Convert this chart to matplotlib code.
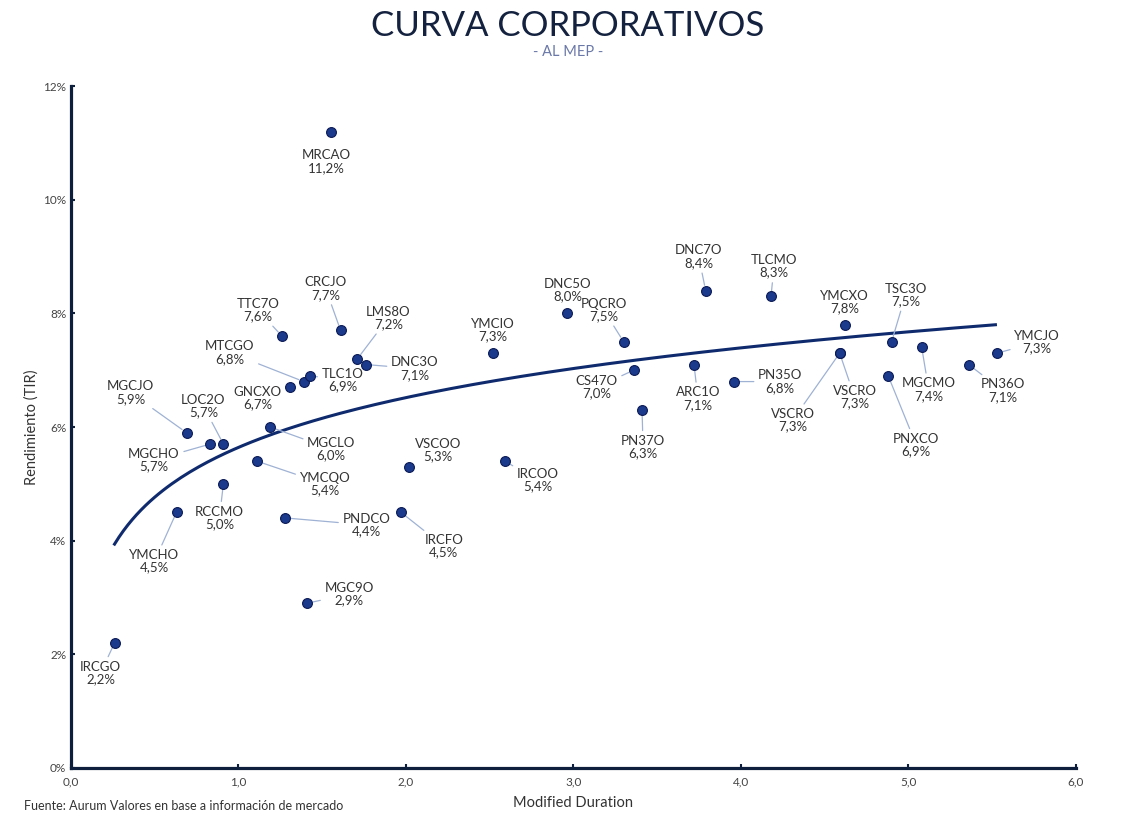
import numpy as np
import matplotlib
matplotlib.use("Agg")
import matplotlib.pyplot as plt
from matplotlib.ticker import FuncFormatter

plt.rcParams['font.family'] = ['Lato', 'DejaVu Sans']

# bonos: nombre, duration modificada, TIR (%)
nombres = ["IRCGO", "YMCHO", "MGCJO", "MGCHO", "LOC2O", "RCCMO", "GNCXO", "MTCGO",
           "TLC1O", "TTC7O", "MGCLO", "YMCQO", "PNDCO", "MGC9O", "CRCJO", "LMS8O",
           "DNC3O", "MRCAO", "IRCFO", "VSCOO", "YMCIO", "IRCOO", "DNC5O", "PQCRO",
           "CS47O", "PN37O", "ARC1O", "DNC7O", "PN35O", "TLCMO", "YMCXO", "VSCRO",
           "VSCRO", "PNXCO", "TSC3O", "MGCMO", "PN36O", "YMCJO"]
duration = [0.26, 0.63, 0.69, 0.83, 0.91, 0.91, 1.31, 1.39,
            1.43, 1.26, 1.19, 1.11, 1.28, 1.41, 1.61, 1.71,
            1.76, 1.55, 1.97, 2.02, 2.52, 2.59, 2.96, 3.30,
            3.36, 3.41, 3.72, 3.79, 3.96, 4.18, 4.62, 4.59,
            4.59, 4.88, 4.90, 5.08, 5.36, 5.53]
tir = [2.2, 4.5, 5.9, 5.7, 5.7, 5.0, 6.7, 6.8,
       6.9, 7.6, 6.0, 5.4, 4.4, 2.9, 7.7, 7.2,
       7.1, 11.2, 4.5, 5.3, 7.3, 5.4, 8.0, 7.5,
       7.0, 6.3, 7.1, 8.4, 6.8, 8.3, 7.8, 7.3,
       7.3, 6.9, 7.5, 7.4, 7.1, 7.3]

# desplazamiento de cada etiqueta respecto del punto (pixeles, y hacia arriba)
offsets = [(-14, -30), (-22, -49), (-56, 40), (-56, -16), (-20, 38), (-4, -34), (-33, -11), (-74, 29),
           (32, -4), (-24, 26), (61, -22), (68, -23), (81, -7), (42, 9), (-15, 42), (31, 41),
           (49, -4), (-4, -30), (43, -34), (29, 17), (0, 23), (33, -19), (1, 23), (-20, 32),
           (-37, -17), (1, -37), (4, -34), (-7, 34), (46, 0), (3, 30), (0, 23), (15, -44),
           (-47, -67), (28, -69), (14, 47), (7, -42), (34, -26), (40, 11)]
sin_linea = {"MRCAO", "GNCXO", "YMCIO", "DNC5O", "YMCXO", "VSCOO"}

navy = "#0d1f3c"
azul = "#1b3a8c"
linea = "#0f2b6e"

fig = plt.figure(figsize=(11.36, 8.24), dpi=100)
ax = fig.add_axes([0.0625, 0.068, 0.8845, 0.8275])

# curva de tendencia logaritmica
b, a = np.polyfit(np.log(duration), tir, 1)
xs = np.linspace(min(duration), 5.52, 200)
ax.plot(xs, a + b * np.log(xs), color=linea, lw=2.2, zorder=2)

ax.scatter(duration, tir, s=50, color=azul, edgecolor="#0a1a55", linewidth=0.8, zorder=4)

for n, x, y, (dx, dy) in zip(nombres, duration, tir, offsets):
    txt = f"{n}\n{y:.1f}%".replace(".", ",")
    props = None
    if n not in sin_linea:
        props = dict(arrowstyle="-", color="#9fb2d4", lw=0.9, shrinkA=1, shrinkB=4)
    ax.annotate(txt, (x, y), xytext=(dx, dy), textcoords="offset pixels",
                ha="center", va="center", fontsize=9.5, color="#333333",
                linespacing=1.05, arrowprops=props, zorder=3)

ax.set_xlim(0, 6)
ax.set_ylim(0, 12)
ax.set_xticks(np.arange(0, 7, 1))
ax.set_yticks(np.arange(0, 13, 2))
ax.xaxis.set_major_formatter(FuncFormatter(lambda v, p: f"{v:.1f}".replace(".", ",")))
ax.yaxis.set_major_formatter(FuncFormatter(lambda v, p: f"{v:.0f}%"))
ax.tick_params(direction="in", length=3, width=1.5, color=navy, labelsize=8.5,
               labelcolor="#444444")
ax.tick_params(axis="x", pad=6)
for s in ["top", "right"]:
    ax.spines[s].set_visible(False)
for s in ["left", "bottom"]:
    ax.spines[s].set_color(navy)
    ax.spines[s].set_linewidth(2.3)

ax.set_xlabel("Modified Duration", fontsize=10.5, color="#333333", labelpad=6)
ax.set_ylabel("Rendimiento (TIR)", fontsize=10.5, color="#333333", labelpad=3)

fig.text(0.5, 0.968, "CURVA CORPORATIVOS", ha="center", va="center",
         fontsize=25, color="#14223f")
fig.text(0.5, 0.937, "- AL MEP -", ha="center", va="center",
         fontsize=10.5, color="#6a78a8")
fig.text(0.021, 0.022, "Fuente: Aurum Valores en base a información de mercado",
         ha="left", va="center", fontsize=9, color="#333333")

fig.savefig("out.png", dpi=100)
